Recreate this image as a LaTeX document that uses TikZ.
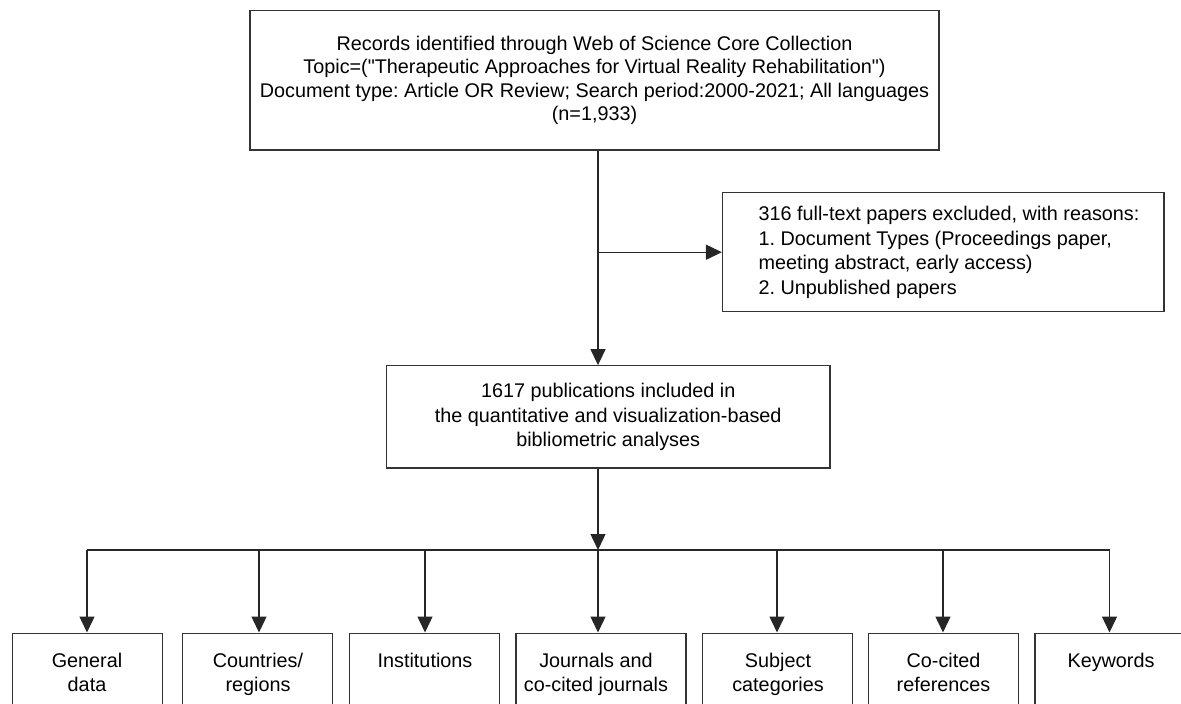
\documentclass[tikz,border=0pt]{standalone}
\usepackage{fontspec}
\setmainfont{Liberation Sans}[Ligatures=TeXOff]
\frenchspacing
\usetikzlibrary{arrows.meta}
\begin{document}
\begin{tikzpicture}[x=1pt,y=-1pt,
  box/.style={draw=black!80, line width=1.3pt, rectangle, inner sep=0pt},
  txt/.style={font=\fontsize{19.8}{23.5}\selectfont, align=center, inner sep=0pt, text=black},
  ltxt/.style={font=\fontsize{19.8}{24.5}\selectfont, align=left, inner sep=0pt, text=black},
  bbox/.style={box, minimum width=150pt, minimum height=120pt, anchor=north},
  btxt/.style={txt, font=\fontsize{19.8}{24}\selectfont, anchor=north},
  conn/.style={draw=black!85, line width=1.4pt},
  arr/.style={conn, -{Triangle[length=16pt,width=15pt]}}]
\useasboundingbox (0,0) rectangle (1181,704);
\clip (0,0) rectangle (1181,704);

% main boxes
\node[box, txt, minimum width=689pt, minimum height=139.5pt] (top) at (594.5,80.3)
  {Records identified through Web of Science Core Collection\\
   Topic=("Therapeutic Approaches for Virtual Reality Rehabilitation")\\
   Document type: Article OR Review; Search period:2000-2021; All languages\\
   (n=1,933)};
\node[box, minimum width=441.5pt, minimum height=119pt] (excl) at (943.3,252.2) {};
\node[ltxt, anchor=west] (excltxt) at ([xshift=36.5pt]excl.west)
  {316 full-text papers excluded, with reasons:\\
   1. Document Types (Proceedings paper,\\
   meeting abstract, early access)\\
   2. Unpublished papers};
\node[box, txt, font=\fontsize{19.8}{24.5}\selectfont, minimum width=443.5pt, minimum height=102.3pt] (mid) at (608.2,416.9)
  {1617 publications included in\\
   the quantitative and visualization-based\\
   bibliometric analyses};

% spine and distribution line
\coordinate (sp) at (598,0);
\coordinate (h1) at (87,550);
\coordinate (h2) at (259,550);
\coordinate (h3) at (425,550);
\coordinate (h4) at (598,550);
\coordinate (h5) at (777,550);
\coordinate (h6) at (943,550);
\coordinate (h7) at (1109.5,550);

% bottom boxes
\node[bbox] (b1) at (87.6,632.5) {};
\node[bbox] (b2) at (257.5,632.5) {};
\node[bbox] (b3) at (424.2,632.5) {};
\node[bbox, minimum width=170pt] (b4) at (601,632.5) {};
\node[bbox] (b5) at (777.8,632.5) {};
\node[bbox] (b6) at (943.5,632.5) {};
\node[bbox] (b7) at (1110,632.5) {};

\node[btxt] (t1) at (87,652.5) {General\\data};
\node[btxt] (t2) at (258,652.5) {Countries/\\regions};
\node[btxt] (t3) at (425,652.5) {Institutions};
\node[btxt] (t4) at (596,652.5) {Journals and\\co-cited journals};
\node[btxt] (t5) at (778,652.5) {Subject\\categories};
\node[btxt] (t6) at (943.5,652.5) {Co-cited\\references};
\node[btxt] (t7) at (1111,652.5) {Keywords};

% connectors
\draw[arr] (top.south -| sp) -- (mid.north -| sp);
\draw[arr] (excl.west -| sp) -- (excl.west);
\draw[arr] (mid.south -| sp) -- (h4);
\draw[conn] (h1) -- (h7);
\foreach \i in {1,...,7} {
  \draw[arr] (h\i) -- (h\i |- b\i.north);
}
\end{tikzpicture}
\end{document}
